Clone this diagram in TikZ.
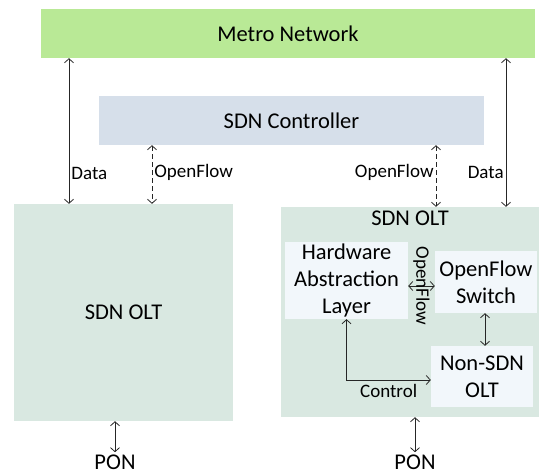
\documentclass[tikz,border=0pt]{standalone}
\usepackage{fontspec}
\setmainfont{Carlito}
\definecolor{mygreen}{RGB}{185,233,150}
\definecolor{myblue}{RGB}{214,223,234}
\definecolor{mygrey}{RGB}{217,232,225}
\definecolor{mywhite}{RGB}{242,247,251}
\usetikzlibrary{arrows.meta,calc}
\tikzset{edgelabel/.style = {inner sep=2pt, font=\fontsize{19}{22}\selectfont}}

\begin{document}
\begin{tikzpicture}[x=1pt,y=-1pt,
  every node/.style={rectangle,inner sep=0pt,align=center,font=\fontsize{22.5}{27}\selectfont},
  netnode/.style={fill=mygreen,minimum width=494pt,minimum height=49pt},
  ctrlnode/.style={fill=myblue,minimum width=385pt,minimum height=49pt},
  oltnode/.style={fill=mygrey},
  subnode/.style={fill=mywhite},
  link/.style={draw=black!85,line width=0.8pt,{Straight Barb[length=4pt,width=9pt]}-{Straight Barb[length=4pt,width=9pt]}},
  oflink/.style={link,dash pattern=on 5pt off 3pt}
  ]
  \useasboundingbox (0,0) rectangle (544,475);

  % the top boxes
  \node[netnode] (metro) at (288,33.5) {Metro Network};
  \node[ctrlnode] (ctrl) at (291.5,120.5) {SDN Controller};

  % the two OLTs
  \node[oltnode,minimum width=219pt,minimum height=217pt] (oltL) at (123.5,312.5) {SDN OLT};
  \node[oltnode,minimum width=258pt,minimum height=210pt] (oltR) at (410,312) {};
  \node[anchor=base] (oltRtitle) at ([yshift=-19pt]oltR.north) {SDN OLT};

  % inside the right OLT
  \node[subnode,minimum width=123pt,minimum height=77pt] (hal) at (346.5,280.5) {Hardware\\Abstraction\\Layer};
  \node[subnode,minimum width=102pt,minimum height=62pt] (ofs) at (486,282) {OpenFlow\\Switch};
  \node[subnode,minimum width=102pt,minimum height=61pt] (nonsdn) at (482,376.5) {Non-SDN\\OLT};

  % the PON ends
  \node[anchor=base,align=none] (ponL) at (115,469) {PON};
  \node[anchor=base,align=none] (ponR) at (415,469) {PON};

  % x positions of the vertical links
  \coordinate (dL) at (69,0);
  \coordinate (oL) at (152,0);
  \coordinate (oR) at (436,0);
  \coordinate (dR) at (506,0);
  \coordinate (sw) at (485,0);

  % the links
  \draw[link] (metro.south -| dL) -- (oltL.north -| dL) node [edgelabel,right,pos=0.79] {Data};
  \draw[oflink] (ctrl.south -| oL) -- (oltL.north -| oL) node [edgelabel,right,pos=0.47] {OpenFlow};
  \draw[oflink] (ctrl.south -| oR) -- (oltR.north -| oR) node [edgelabel,left,pos=0.45] {OpenFlow};
  \draw[link] (metro.south -| dR) -- (oltR.north -| dR) node [edgelabel,left,pos=0.77] {Data};
  \draw[link] ([yshift=-5.5pt]hal.east) -- ([yshift=-5.5pt]hal.east -| ofs.west) node [edgelabel,midway,rotate=-90,inner sep=0pt] {OpenFlow};
  \draw[link] (ofs.south -| sw) -- (nonsdn.north -| sw);
  \draw[link] (hal.south) |- ([yshift=-3.5pt]nonsdn.west) node [edgelabel,pos=0.75,anchor=base,yshift=-17pt] {Control};
  \draw[link] (oltL.south -| ponL) -- ([yshift=2pt]ponL.north);
  \draw[link] (oltR.south -| ponR) -- ([yshift=2pt]ponR.north);
\end{tikzpicture}
\end{document}
